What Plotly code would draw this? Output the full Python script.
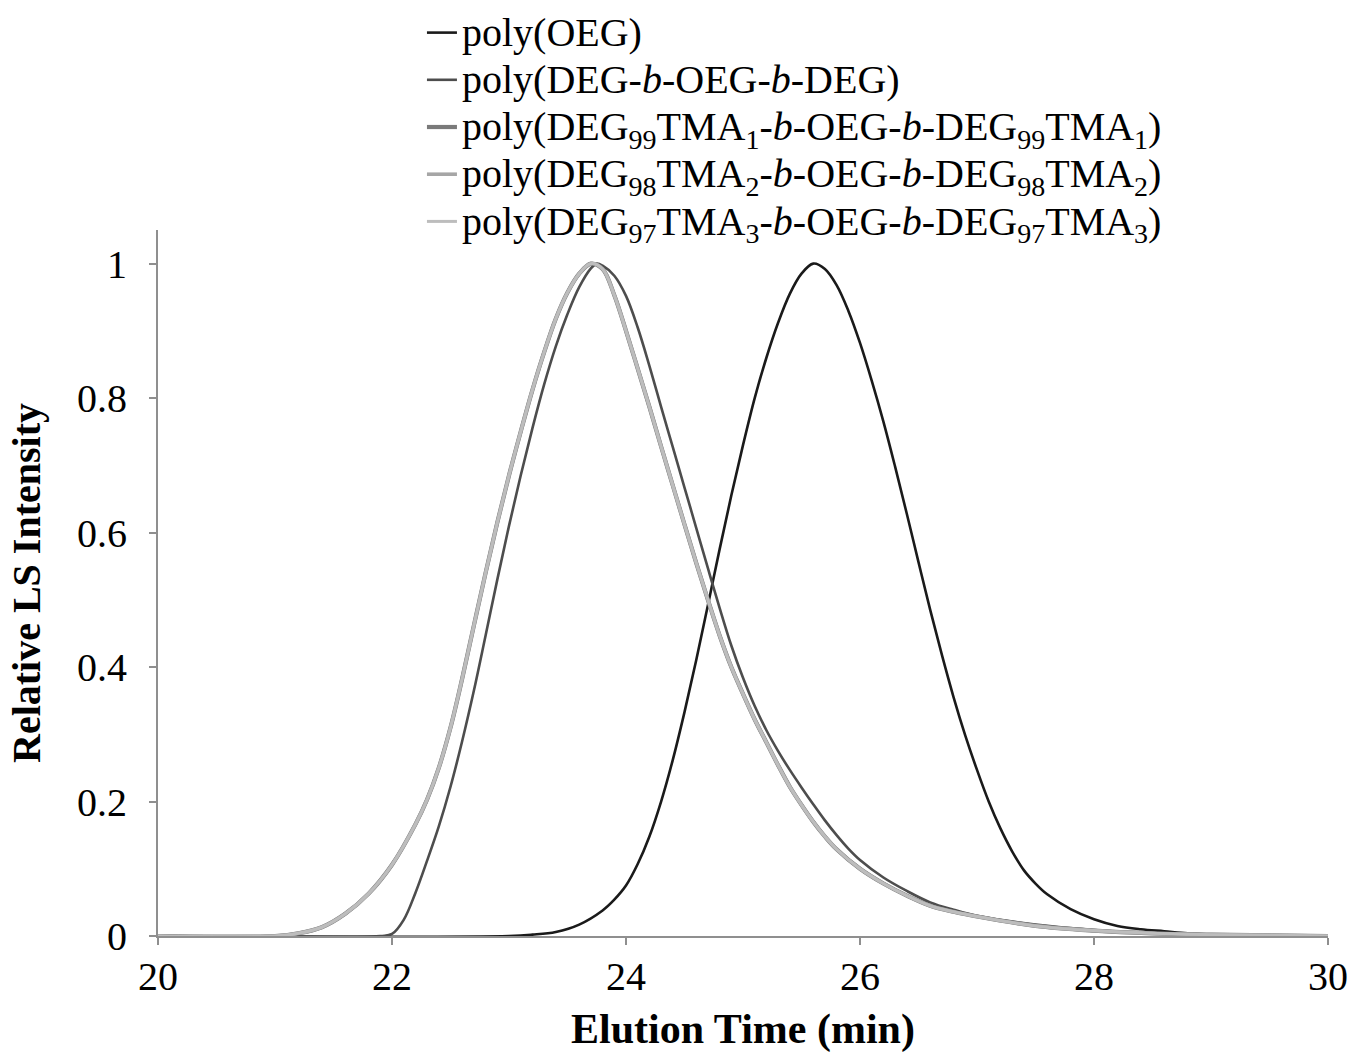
import plotly.graph_objects as go

# ---------------- data ----------------
series_names = [
    "poly(OEG)",
    "poly(DEG-<i>b</i>-OEG-<i>b</i>-DEG)",
    "poly(DEG<sub>99</sub>TMA<sub>1</sub>-<i>b</i>-OEG-<i>b</i>-DEG<sub>99</sub>TMA<sub>1</sub>)",
    "poly(DEG<sub>98</sub>TMA<sub>2</sub>-<i>b</i>-OEG-<i>b</i>-DEG<sub>98</sub>TMA<sub>2</sub>)",
    "poly(DEG<sub>97</sub>TMA<sub>3</sub>-<i>b</i>-OEG-<i>b</i>-DEG<sub>97</sub>TMA<sub>3</sub>)",
]

time_oeg = [20.0, 23.0, 23.2, 23.4, 23.6, 23.8, 23.9, 24.0, 24.1, 24.2, 24.3, 24.4, 24.5, 24.6,
            24.7, 24.8, 24.9, 25.0, 25.1, 25.2, 25.3, 25.4, 25.5, 25.6, 25.7, 25.8, 25.9, 26.0,
            26.1, 26.2, 26.3, 26.4, 26.5, 26.6, 26.7, 26.8, 26.9, 27.0, 27.1, 27.2, 27.3, 27.4,
            27.5, 27.6, 27.8, 28.0, 28.2, 28.4, 28.6, 28.8, 29.0, 29.5, 30.0]
int_oeg = [0.0, 0.0, 0.002, 0.006, 0.017, 0.038, 0.054, 0.075, 0.107, 0.148, 0.2, 0.262, 0.333,
           0.41, 0.492, 0.575, 0.655, 0.73, 0.8, 0.86, 0.912, 0.955, 0.985, 1.0, 0.992, 0.968,
           0.93, 0.882, 0.826, 0.765, 0.698, 0.628, 0.556, 0.485, 0.418, 0.355, 0.298, 0.247,
           0.2, 0.16, 0.126, 0.098, 0.078, 0.062, 0.04, 0.025, 0.015, 0.01, 0.007, 0.004, 0.002,
           0.001, 0.0]

time_deg = [20.0, 21.9, 22.0, 22.1, 22.2, 22.3, 22.4, 22.5, 22.6, 22.7, 22.8, 22.9, 23.0, 23.1,
            23.2, 23.3, 23.4, 23.5, 23.6, 23.7, 23.75, 23.8, 23.9, 24.0, 24.1, 24.2, 24.3, 24.4,
            24.5, 24.6, 24.7, 24.8, 24.9, 25.0, 25.1, 25.2, 25.3, 25.4, 25.5, 25.6, 25.7, 25.8,
            25.9, 26.0, 26.2, 26.4, 26.6, 26.8, 27.0, 27.5, 28.0, 28.5, 29.0, 30.0]
int_deg = [0.0, 0.0, 0.003, 0.024, 0.064, 0.112, 0.163, 0.222, 0.29, 0.365, 0.447, 0.53, 0.61,
           0.685, 0.755, 0.82, 0.877, 0.925, 0.965, 0.993, 1.0, 0.997, 0.982, 0.952, 0.905, 0.848,
           0.787, 0.727, 0.667, 0.607, 0.547, 0.488, 0.432, 0.384, 0.342, 0.306, 0.275, 0.247,
           0.221, 0.196, 0.172, 0.15, 0.13, 0.113, 0.087, 0.067, 0.05, 0.039, 0.03, 0.017, 0.009,
           0.004, 0.002, 0.0]

time_tma = [20.0, 21.0, 21.2, 21.4, 21.6, 21.8, 22.0, 22.2, 22.3, 22.4, 22.5, 22.6, 22.7, 22.8,
            22.9, 23.0, 23.1, 23.2, 23.3, 23.4, 23.5, 23.6, 23.7, 23.8, 23.9, 24.0, 24.1, 24.2,
            24.3, 24.4, 24.5, 24.6, 24.7, 24.8, 24.9, 25.0, 25.1, 25.2, 25.3, 25.4, 25.5, 25.6,
            25.7, 25.8, 26.0, 26.2, 26.4, 26.6, 26.8, 27.0, 27.5, 28.0, 28.5, 29.0, 30.0]
int_tma1 = [0.0, 0.0, 0.004, 0.013, 0.033, 0.063, 0.106, 0.166, 0.203, 0.25, 0.31, 0.383, 0.462,
            0.54, 0.615, 0.685, 0.75, 0.812, 0.868, 0.918, 0.957, 0.985, 1.0, 0.992, 0.953, 0.9,
            0.844, 0.787, 0.728, 0.67, 0.612, 0.555, 0.5, 0.447, 0.4, 0.36, 0.322, 0.288, 0.254,
            0.222, 0.195, 0.17, 0.148, 0.129, 0.1, 0.078, 0.06, 0.045, 0.036, 0.029, 0.015, 0.008,
            0.004, 0.002, 0.0]
int_tma2 = [0.0, 0.0, 0.004, 0.013, 0.033, 0.063, 0.106, 0.166, 0.203, 0.25, 0.31, 0.383, 0.462,
            0.54, 0.615, 0.685, 0.75, 0.812, 0.868, 0.918, 0.957, 0.985, 1.0, 0.992, 0.953, 0.9,
            0.844, 0.787, 0.728, 0.67, 0.612, 0.555, 0.5, 0.447, 0.4, 0.36, 0.322, 0.288, 0.254,
            0.222, 0.195, 0.17, 0.148, 0.129, 0.1, 0.078, 0.06, 0.045, 0.036, 0.029, 0.015, 0.008,
            0.004, 0.002, 0.0]
int_tma3 = [0.0, 0.0, 0.004, 0.013, 0.033, 0.063, 0.106, 0.166, 0.203, 0.25, 0.31, 0.383, 0.462,
            0.54, 0.615, 0.685, 0.75, 0.812, 0.868, 0.918, 0.957, 0.985, 1.0, 0.992, 0.953, 0.9,
            0.844, 0.787, 0.728, 0.67, 0.612, 0.555, 0.5, 0.447, 0.4, 0.36, 0.322, 0.288, 0.254,
            0.222, 0.195, 0.17, 0.148, 0.129, 0.1, 0.078, 0.06, 0.045, 0.036, 0.029, 0.015, 0.008,
            0.004, 0.002, 0.0]

x_ticks = [20, 22, 24, 26, 28, 30]
y_ticks = [0, 0.2, 0.4, 0.6, 0.8, 1]
y_tick_labels = ["0", "0.2", "0.4", "0.6", "0.8", "1"]

# ---------------- styling ----------------
colors = ["#1a1a1a", "#4d4d4d", "#7a7a7a", "#a6a6a6", "#bdbdbd"]
widths = [2.6, 2.6, 4.2, 3.6, 3.0]
FONT = "Liberation Serif, Times New Roman, serif"
AXIS_COLOR = "#8f8f8f"

xs = [time_oeg, time_deg, time_tma, time_tma, time_tma]
ys = [int_oeg, int_deg, int_tma1, int_tma2, int_tma3]

fig = go.Figure()
for name, x, y, c, w in zip(series_names, xs, ys, colors, widths):
    fig.add_trace(go.Scatter(
        x=x, y=y, mode="lines", name='<span style="font-size:40px">' + name + "</span>",
        line=dict(color=c, width=w, shape="spline", smoothing=1.0),
        hoverinfo="skip",
    ))

fig.update_layout(
    width=1354, height=1053,
    margin=dict(l=158, r=26, t=230, b=117, autoexpand=False),
    paper_bgcolor="white", plot_bgcolor="white",
    font=dict(family=FONT, color="black", size=38),
    showlegend=True,
    legend=dict(
        x=0.2256, y=1.3201, xanchor="left", yanchor="top",
        font=dict(family=FONT, size=34, color="black"),
        bgcolor="rgba(0,0,0,0)", itemwidth=30, tracegroupgap=0,
    ),
    xaxis=dict(
        range=[20, 30], tickvals=x_ticks, showgrid=False, zeroline=False,
        showline=True, linecolor=AXIS_COLOR, linewidth=2,
        ticks="outside", ticklen=7, tickwidth=2, tickcolor=AXIS_COLOR,
        tickfont=dict(family=FONT, size=40, color="black"),
        ticklabeloverflow="allow", ticklabelstandoff=-3,
        title=dict(text="<b>Elution Time (min)</b>", font=dict(family=FONT, size=42, color="black"),
                   standoff=16),
        automargin=True,
    ),
    yaxis=dict(
        range=[0, 1.05], tickvals=y_ticks, ticktext=y_tick_labels, showgrid=False, zeroline=False,
        showline=True, linecolor=AXIS_COLOR, linewidth=2,
        ticks="outside", ticklen=7, tickwidth=2, tickcolor=AXIS_COLOR,
        ticklabelstandoff=14,
        tickfont=dict(family=FONT, size=40, color="black"),
        title=dict(text="<b>Relative LS Intensity</b>", font=dict(family=FONT, size=40, color="black"),
                   standoff=24),
        automargin=False,
    ),
)

# remove the browser's default 8px body margin so the figure fills the window exactly
fig.write_html("out.html", config={"displayModeBar": False},
               post_script="document.body.style.margin='0px';")
